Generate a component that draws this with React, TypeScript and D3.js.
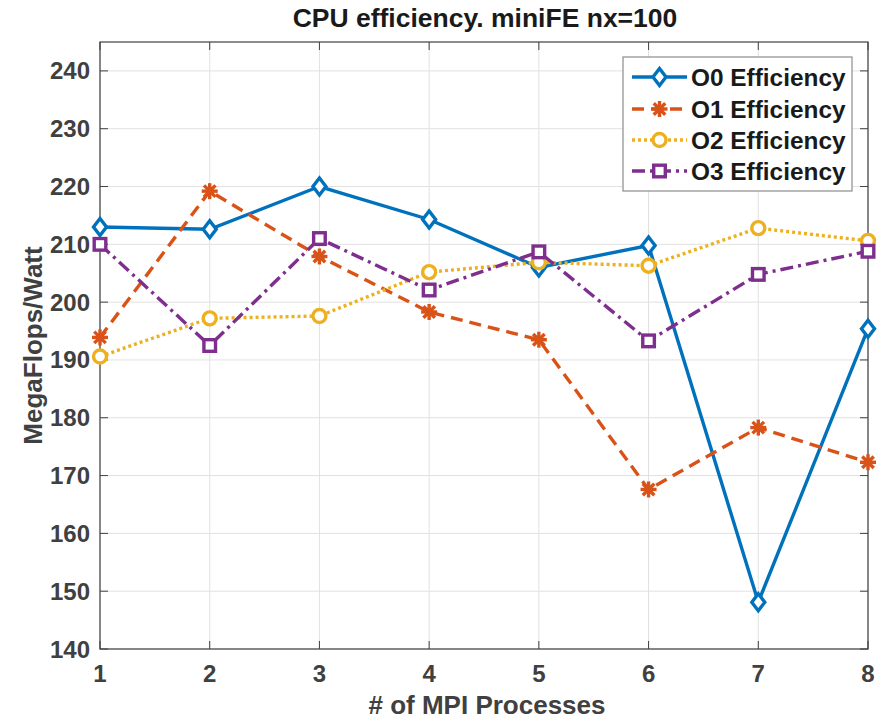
import React from "react";
import * as d3 from "d3";

const processes = [1, 2, 3, 4, 5, 6, 7, 8];
const o0Efficiency = [213.0, 212.6, 220.0, 214.3, 206.0, 209.8, 148.1, 195.4];
const o1Efficiency = [193.9, 219.2, 207.9, 198.3, 193.5, 167.6, 178.3, 172.3];
const o2Efficiency = [190.6, 197.2, 197.6, 205.2, 206.9, 206.3, 212.8, 210.6];
const o3Efficiency = [210.0, 192.5, 211.0, 202.1, 208.7, 193.3, 204.8, 208.8];
const seriesNames = ["O0 Efficiency", "O1 Efficiency", "O2 Efficiency", "O3 Efficiency"];
const xTicks = [1, 2, 3, 4, 5, 6, 7, 8];
const yTicks = [140, 150, 160, 170, 180, 190, 200, 210, 220, 230, 240];

const W = 886, H = 721;
const L = 100, R = 868, T = 42, B = 649;
const FONT = "'Liberation Sans', Arial, Helvetica, sans-serif";

const colors = ["#0072BD", "#D95319", "#EDB120", "#7E2F8E"];
const dashes = ["none", "12,7", "3,3", "13,5,3,5"];
const markers = ["diamond", "asterisk", "circle", "square"];
const LW = 3.4;

function Marker({ kind, x, y, color }: { kind: string; x: number; y: number; color: string }) {
  const sw = LW;
  if (kind === "diamond") {
    const h = 8.5, w = 6.5;
    return <path d={`M${x},${y - h}L${x + w},${y}L${x},${y + h}L${x - w},${y}Z`} fill="#fff" stroke={color} strokeWidth={sw} />;
  }
  if (kind === "circle") {
    return <circle cx={x} cy={y} r={6.5} fill="#fff" stroke={color} strokeWidth={sw} />;
  }
  if (kind === "square") {
    const s = 5.8;
    return <rect x={x - s} y={y - s} width={2 * s} height={2 * s} fill="#fff" stroke={color} strokeWidth={sw} />;
  }
  const r = 8, d = r * 0.72;
  return (
    <g stroke={color} strokeWidth={sw} strokeLinecap="butt">
      <line x1={x - r} y1={y} x2={x + r} y2={y} />
      <line x1={x} y1={y - r} x2={x} y2={y + r} />
      <line x1={x - d} y1={y - d} x2={x + d} y2={y + d} />
      <line x1={x - d} y1={y + d} x2={x + d} y2={y - d} />
      <circle cx={x} cy={y} r={4} fill={color} stroke="none" />
    </g>
  );
}

export default function App() {
  const x = d3.scaleLinear().domain([1, 8]).range([L, R]);
  const y = d3.scaleLinear().domain([140, 245]).range([B, T]);
  const data = [o0Efficiency, o1Efficiency, o2Efficiency, o3Efficiency];
  const line = d3
    .line<number>()
    .x((_, i) => x(processes[i]))
    .y((v) => y(v));
  const tickLen = 8;
  const axisColor = "#404040";
  const gridColor = "#e1e1e1";

  const legX = 623, legY = 57, legW = 229, legH = 134;
  const rowY = [77, 109, 140, 171];

  return (
    <svg width={W} height={H} style={{ position: "absolute", left: 0, top: 0, background: "#fff" }} fontFamily={FONT}>
      <rect x={0} y={0} width={W} height={H} fill="#fff" />
      {/* grid */}
      {xTicks.map((t) => (
        <line key={"gx" + t} x1={x(t)} x2={x(t)} y1={T} y2={B} stroke={gridColor} strokeWidth={1} />
      ))}
      {yTicks.map((t) => (
        <line key={"gy" + t} x1={L} x2={R} y1={y(t)} y2={y(t)} stroke={gridColor} strokeWidth={1} />
      ))}
      {/* ticks */}
      {xTicks.map((t) => (
        <g key={"tx" + t} stroke={axisColor} strokeWidth={1}>
          <line x1={x(t)} x2={x(t)} y1={B} y2={B - tickLen} />
          <line x1={x(t)} x2={x(t)} y1={T} y2={T + tickLen} />
        </g>
      ))}
      {yTicks.map((t) => (
        <g key={"ty" + t} stroke={axisColor} strokeWidth={1}>
          <line x1={L} x2={L + tickLen} y1={y(t)} y2={y(t)} />
          <line x1={R} x2={R - tickLen} y1={y(t)} y2={y(t)} />
        </g>
      ))}
      <rect x={L} y={T} width={R - L} height={B - T} fill="none" stroke={axisColor} strokeWidth={1.2} />
      {/* tick labels */}
      {xTicks.map((t) => (
        <text key={"lx" + t} x={x(t)} y={682} textAnchor="middle" fontSize={24} fontWeight="bold" fill="#404040">
          {t}
        </text>
      ))}
      {yTicks.map((t) => (
        <text key={"ly" + t} x={90} y={y(t) + 8.5} textAnchor="end" fontSize={24} fontWeight="bold" fill="#404040">
          {t}
        </text>
      ))}
      {/* series */}
      {data.map((vals, si) => (
        <g key={"s" + si}>
          <path d={line(vals) || ""} fill="none" stroke={colors[si]} strokeWidth={LW} strokeDasharray={dashes[si]} />
          {vals.map((v, i) => (
            <Marker key={i} kind={markers[si]} x={x(processes[i])} y={y(v)} color={colors[si]} />
          ))}
        </g>
      ))}
      {/* title & labels */}
      <text x={(L + R) / 2 + 1} y={27} textAnchor="middle" fontSize={26.5} fontWeight="bold" fill="#1a1a1a">
        CPU efficiency. miniFE nx=100
      </text>
      <text x={(L + R) / 2 + 3} y={714} textAnchor="middle" fontSize={26} fontWeight="bold" fill="#404040">
        # of MPI Processes
      </text>
      <text
        transform={`translate(42,${(T + B) / 2}) rotate(-90)`}
        textAnchor="middle"
        fontSize={26}
        fontWeight="bold"
        fill="#404040"
      >
        MegaFlops/Watt
      </text>
      {/* legend */}
      <rect x={legX} y={legY} width={legW} height={legH} fill="#fff" stroke="#8c8c8c" strokeWidth={1.2} />
      {seriesNames.map((name, si) => (
        <g key={"leg" + si}>
          <line x1={632} x2={687} y1={rowY[si]} y2={rowY[si]} stroke={colors[si]} strokeWidth={LW} strokeDasharray={dashes[si]} />
          <Marker kind={markers[si]} x={659.5} y={rowY[si]} color={colors[si]} />
          <text x={691} y={rowY[si] + 8.5} fontSize={24.4} fontWeight="bold" fill="#1a1a1a">
            {name}
          </text>
        </g>
      ))}
    </svg>
  );
}
